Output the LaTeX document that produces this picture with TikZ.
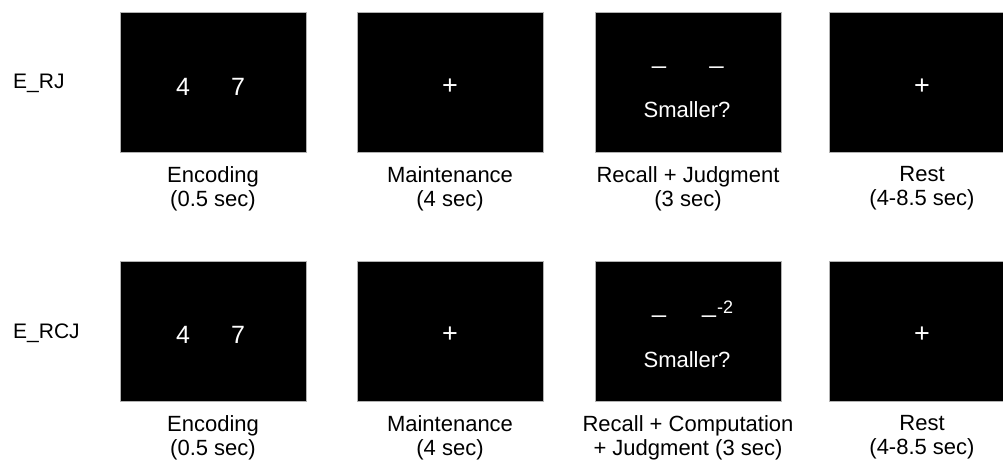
\documentclass[tikz,border=0pt]{standalone}
\usepackage{fontspec}
\setmainfont{Liberation Sans}
\begin{document}
\begin{tikzpicture}[x=1pt,y=-1pt,
  screen/.style={draw=gray!60, line width=0.7pt, fill=black, minimum width=186pt, minimum height=140pt, inner sep=0pt, anchor=north west},
  caption/.style={align=center, anchor=north, inner sep=0pt, font=\fontsize{22}{24.5}\selectfont},
  digit/.style={text=white, inner sep=0pt, anchor=base, font=\fontsize{25}{25}\selectfont},
  fix/.style={text=white, inner sep=0pt, anchor=base, font=\fontsize{27}{27}\selectfont},
  blank/.style={text=white, inner sep=0pt, anchor=base, font=\fontsize{25}{25}\selectfont},
  question/.style={text=white, inner sep=0pt, anchor=base, font=\fontsize{22}{22}\selectfont},
  offset/.style={text=white, inner sep=0pt, anchor=base, font=\fontsize{18}{18}\selectfont},
  rowlabel/.style={inner sep=0pt, anchor=base west, font=\fontsize{21}{21}\selectfont}
]
\clip (0,0) rectangle (1003,464);
\fill[white] (0,0) rectangle (1003,464);

% row labels
\node[rowlabel] (lab1) at (13,88) {E\_RJ};
\node[rowlabel] (lab2) at (13,338) {E\_RCJ};

% top row screens
\node[screen] (s11) at (120,12) {};
\node[screen] (s12) at (357,12) {};
\node[screen] (s13) at (595,12) {};
\node[screen] (s14) at (829,12) {};

% bottom row screens
\node[screen] (s21) at (120,261) {};
\node[screen] (s22) at (357,261) {};
\node[screen] (s23) at (595,261) {};
\node[screen] (s24) at (829,261) {};

% top row contents
\node[digit] (d11a) at (183,95) {4};
\node[digit] (d11b) at (238,95) {7};
\node[fix] (f12) at (450,94.5) {+};
\node[blank] (b13a) at (659,63) {\_};
\node[blank] (b13b) at (716.5,63) {\_};
\node[question] (q13) at (687,117) {Smaller?};
\node[fix] (f14) at (922,94.5) {+};

% bottom row contents
\node[digit] (d21a) at (183,343) {4};
\node[digit] (d21b) at (238,343) {7};
\node[fix] (f22) at (450,342.5) {+};
\node[blank] (b23a) at (659,312) {\_};
\node[blank] (b23b) at (709,312) {\_};
\node[offset] (o23) at (725,313) {-2};
\node[question] (q23) at (687,367) {Smaller?};
\node[fix] (f24) at (922,342.5) {+};

% captions top
\node[caption] (c11) at (213,166) {Encoding\\(0.5 sec)};
\node[caption] (c12) at (450,166) {Maintenance\\(4 sec)};
\node[caption] (c13) at (688,166) {Recall + Judgment\\(3 sec)};
\node[caption] (c14) at (922,166) {Rest\\(4-8.5 sec)};

% captions bottom
\node[caption] (c21) at (213,415) {Encoding\\(0.5 sec)};
\node[caption] (c22) at (450,415) {Maintenance\\(4 sec)};
\node[caption] (c23) at (688,415) {Recall + Computation\\+ Judgment (3 sec)};
\node[caption] (c24) at (922,415) {Rest\\(4-8.5 sec)};
\end{tikzpicture}
\end{document}
